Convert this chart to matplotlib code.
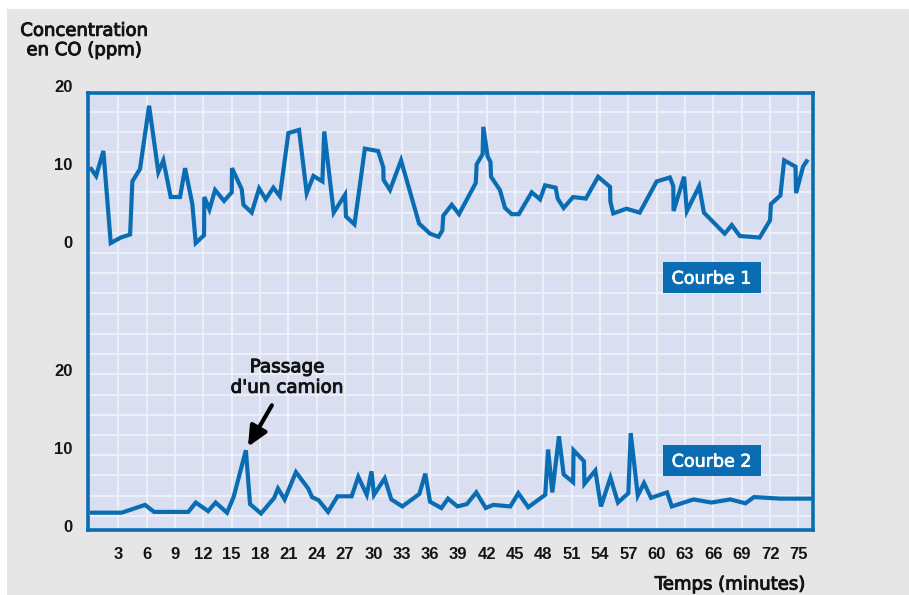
import matplotlib
matplotlib.use("Agg")
import matplotlib.pyplot as plt
import matplotlib.patheffects as pe
from matplotlib.patches import Rectangle
from matplotlib.transforms import blended_transform_factory
import numpy as np

# ---------------- data ----------------
minutes_c1 = [0, 0.64, 1.41, 2.19, 3.25, 4.24, 4.48, 5.29, 6.25, 7.23,
              7.76, 8.54, 9.53, 10.06, 10.83, 11.19, 12.07, 12.1, 12.64, 13.24,
              14.19, 15.0, 15.03, 16.06, 16.24, 17.12, 17.9, 18.6, 19.41, 20.1,
              21.0, 22.13, 22.94, 23.65, 24.6, 24.8, 25.8, 27.0, 27.1, 28.0,
              29.1, 30.5, 31.05, 31.08, 31.76, 32.93, 34.84, 36.0, 36.9, 37.3,
              37.4, 38.3, 39.07, 40.84, 40.94, 41.57, 41.64, 42.1, 42.4, 42.46,
              43.4, 43.94, 44.65, 45.4, 46.77, 47.65, 48.18, 49.3, 49.52, 50.15,
              51.15, 52.5, 53.8, 55.06, 55.1, 55.4, 56.8, 58.2, 60.0, 61.4,
              61.76, 61.79, 62.9, 63.2, 64.5, 65.0, 67.2, 67.95, 68.8, 70.9,
              72.0, 72.1, 73.1, 73.5, 74.7, 74.76, 75.5, 76.0]
co_c1 = [9.7, 8.6, 11.8, 0.0, 0.7, 1.1, 7.9, 9.5, 17.6, 9.1,
         10.6, 5.9, 5.9, 9.6, 5.0, 0.0, 1.0, 5.9, 4.3, 6.8,
         5.4, 6.5, 9.6, 6.9, 4.9, 3.9, 7.0, 5.6, 7.1, 6.0,
         14.1, 14.5, 6.4, 8.6, 7.9, 14.3, 3.9, 6.2, 3.4, 2.4,
         12.1, 11.8, 9.7, 8.1, 6.8, 10.6, 2.5, 1.2, 0.8, 1.6,
         3.5, 4.9, 3.7, 7.7, 10.1, 11.4, 14.9, 11.1, 10.4, 8.5,
         6.8, 4.5, 3.7, 3.7, 6.5, 5.6, 7.4, 7.1, 5.7, 4.5,
         5.9, 5.7, 8.5, 7.2, 5.3, 3.8, 4.4, 3.9, 7.9, 8.4,
         7.3, 4.1, 8.5, 4.1, 7.3, 3.9, 1.2, 2.3, 0.9, 0.7,
         2.9, 5.0, 6.1, 10.6, 9.8, 6.4, 9.8, 10.7]

minutes_c2 = [0, 3.35, 5.82, 6.78, 10.4, 11.2, 12.5, 13.3, 14.5, 15.2,
              16.5, 16.94, 18.1, 19.5, 19.9, 20.6, 21.8, 23.1, 23.5, 24.2,
              25.2, 26.2, 27.7, 28.4, 29.3, 29.8, 30.07, 31.2, 31.9, 33.07,
              34.87, 35.5, 36.0, 37.2, 37.9, 38.9, 39.9, 40.9, 41.9, 42.7,
              44.5, 45.35, 46.4, 48.2, 48.5, 48.95, 49.65, 50.15, 51.15, 51.2,
              52.3, 52.35, 53.5, 54.1, 55.1, 55.9, 57.0, 57.25, 58.0, 58.66,
              59.4, 61.1, 61.6, 63.9, 65.8, 67.8, 69.4, 70.3, 73.1, 76.6]
co_c2 = [1.9, 1.9, 2.9, 2.0, 2.0, 3.2, 2.1, 3.2, 1.9, 3.9,
         9.9, 3.0, 1.8, 3.8, 5.0, 3.6, 7.1, 5.0, 3.9, 3.5,
         2.0, 4.0, 4.0, 6.5, 4.2, 7.2, 4.2, 6.3, 3.6, 2.7,
         4.3, 6.9, 3.3, 2.5, 3.7, 2.7, 3.0, 4.5, 2.5, 2.9,
         2.7, 4.4, 2.6, 4.2, 10.0, 4.5, 11.7, 6.8, 5.8, 9.9,
         8.5, 5.6, 7.3, 2.7, 6.4, 3.2, 4.4, 12.1, 4.1, 5.7,
         3.8, 4.5, 2.7, 3.6, 3.2, 3.6, 3.1, 3.9, 3.7, 3.7]

x_ticks = list(range(3, 76, 3))
y_tick_values = [0, 10, 20]
curve_names = ["Courbe 1", "Courbe 2"]
y_title = "Concentration\nen CO (ppm)"
x_title = "Temps (minutes)"
annotation_text = "Passage\nd'un camion"

# ---------------- style / layout ----------------
W, H = 909, 595
BLUE = "#0a6db3"
PLOT_BG = "#d9dff0"
FIG_BG = "#e6e6e6"
GRID = "#eef1f8"
TXT = "#141414"
OFFSET = 36.47          # vertical shift applied to Courbe 1
PX_PER_UNIT = 7.8

def fx(px):
    return px / W

def fy(py):
    return 1 - py / H

fig = plt.figure(figsize=(W / 100, H / 100), dpi=100, facecolor="white")
fig.add_artist(Rectangle((fx(7), 0), 1, fy(9), transform=fig.transFigure,
                         facecolor=FIG_BG, edgecolor="none", zorder=-10))

ax_l, ax_r, ax_t, ax_b = 87.7, 812.5, 93.3, 530.3
ax = fig.add_axes([fx(ax_l), fy(ax_b), fx(ax_r - ax_l), (ax_b - ax_t) / H])
ax.set_facecolor(PLOT_BG)
ax.set_xlim(-0.25, 76.5)
zero_px = 527.5
ax.set_ylim(-(ax_b - zero_px) / PX_PER_UNIT, (zero_px - ax_t) / PX_PER_UNIT)

# grid
grid_y = 1.51 + 2.59 * np.arange(21)
ax.set_yticks(grid_y)
ax.set_yticklabels([])
ax.set_xticks(x_ticks)
ax.set_xticklabels([str(v) for v in x_ticks], fontfamily=["Liberation Sans", "DejaVu Sans"],
                   fontweight="bold", fontsize=12, color=TXT)
ax.tick_params(axis="both", length=0)
ax.tick_params(axis="x", pad=12.3)
ax.grid(True, color=GRID, lw=1.3)
ax.set_axisbelow(True)
for s in ax.spines.values():
    s.set_color(BLUE)
    s.set_linewidth(2.6)
    s.set_zorder(5)

# curves
ax.plot(minutes_c1, np.array(co_c1) + OFFSET, color=BLUE, lw=3.0,
        solid_joinstyle="miter", solid_capstyle="butt", zorder=3)
ax.plot(minutes_c2, co_c2, color=BLUE, lw=3.0,
        solid_joinstyle="miter", solid_capstyle="butt", zorder=3)

# y labels for both curves
trans = blended_transform_factory(fig.transFigure, ax.transData)
for base in (OFFSET, 0):
    for v in y_tick_values:
        ax.text(fx(72.7), base + v, str(v), transform=trans, ha="right", va="center",
                fontfamily=["Liberation Sans", "DejaVu Sans"], fontweight="bold",
                fontsize=12, color=TXT, clip_on=False)

# curve name boxes
thick = [pe.withStroke(linewidth=0.7, foreground=TXT)]
boxes = [(662.7, 262.3, 760.7, 292.7), (662.7, 445.0, 761.0, 476.0)]
for name, (x0, y0, x1, y1) in zip(curve_names, boxes):
    fig.add_artist(Rectangle((fx(x0), fy(y1)), fx(x1 - x0), (y1 - y0) / H,
                             transform=fig.transFigure, facecolor=BLUE,
                             edgecolor="none", zorder=6))
    fig.text(fx((x0 + x1) / 2), fy((y0 + y1) / 2 + 1.2), name, ha="center", va="center",
             fontfamily="DejaVu Sans", fontsize=12.6, color="white", zorder=7,
             path_effects=[pe.withStroke(linewidth=0.5, foreground="white")])

# annotation for truck
i_peak = int(np.argmax(co_c2[:20]))
ax.annotate("", xy=(minutes_c2[i_peak], co_c2[i_peak]), xycoords="data",
            xytext=(18.7, 32.4), textcoords="offset points",
            arrowprops=dict(arrowstyle="-|>,head_length=0.6,head_width=0.28",
                            mutation_scale=20, lw=3, color="black",
                            shrinkA=0, shrinkB=3), zorder=6)
fig.text(fx(287), fy(377.5), annotation_text, ha="center", va="center",
         fontfamily="DejaVu Sans", fontsize=13.2, color=TXT, linespacing=1.18,
         path_effects=thick)

# titles
fig.text(fx(84), fy(40.5), y_title, ha="center", va="center",
         fontfamily="DejaVu Sans", fontsize=13.0, color=TXT, linespacing=1.1,
         path_effects=thick)
fig.text(fx(730), fy(584.5), x_title, ha="center", va="center",
         fontfamily="DejaVu Sans", fontsize=13.0, color=TXT, path_effects=thick)

fig.savefig("out.png", dpi=100, facecolor=fig.get_facecolor())
